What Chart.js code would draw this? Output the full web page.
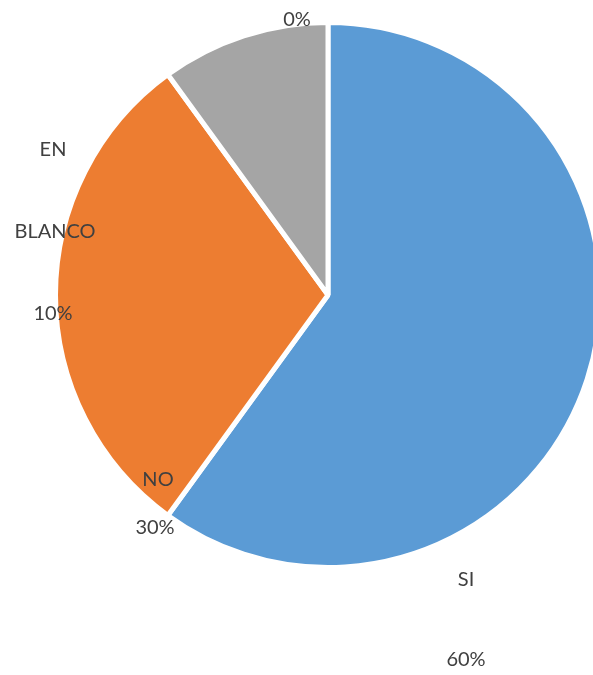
<!DOCTYPE html>
<html>
<head>
<meta charset="utf-8">
<script src="https://cdn.jsdelivr.net/npm/chart.js@4/dist/chart.umd.min.js"></script>
<style>
  html, body { margin: 0; padding: 0; background: #fff; overflow: hidden; }
  #wrap { width: 620px; height: 675px; }
</style>
</head>
<body>
<div id="wrap"><canvas id="pie"></canvas></div>
<script>
// data
const categories = ["SI", "NO", "EN BLANCO"];
const shares = [60, 30, 10];
const sliceColors = ["#5B9BD5", "#ED7D31", "#A5A5A5"];

// data label texts, as they stand in the picture
const labelLines = [["SI", "60%"], ["NO", "30%"], ["EN", "BLANCO", "10%"], ["0%"]];

// where each label sits, offset from the pie centre (px)
const labelSpots = [
  [[138, 285], [138, 365]],
  [[-170, 185], [-173, 233]],
  [[-275, -145], [-273, -63], [-275, 19]],
  [[-31, -275]],
];

const pieLabels = {
  id: "pieLabels",
  afterDraw(chart) {
    const arc = chart.getDatasetMeta(0).data[0];
    if (!arc) return;
    const ctx = chart.ctx;
    ctx.save();
    ctx.font = "20px Lato, 'Open Sans', sans-serif";
    ctx.fillStyle = "#404040";
    ctx.textAlign = "center";
    ctx.textBaseline = "middle";
    labelLines.forEach((lines, i) => {
      lines.forEach((txt, j) => {
        const [dx, dy] = labelSpots[i][j];
        ctx.fillText(txt, arc.x + dx, arc.y + dy);
      });
    });
    ctx.restore();
  },
};

new Chart(document.getElementById("pie"), {
  type: "pie",
  data: {
    labels: categories,
    datasets: [
      {
        data: shares,
        backgroundColor: sliceColors,
        borderColor: "#ffffff",
        borderWidth: 5,
      },
    ],
  },
  options: {
    responsive: true,
    maintainAspectRatio: false,
    animation: false,
    layout: { padding: { left: 52, right: 16, top: 20, bottom: 105 } },
    plugins: {
      legend: { display: false },
      tooltip: { enabled: false },
    },
  },
  plugins: [pieLabels],
});
</script>
</body>
</html>
